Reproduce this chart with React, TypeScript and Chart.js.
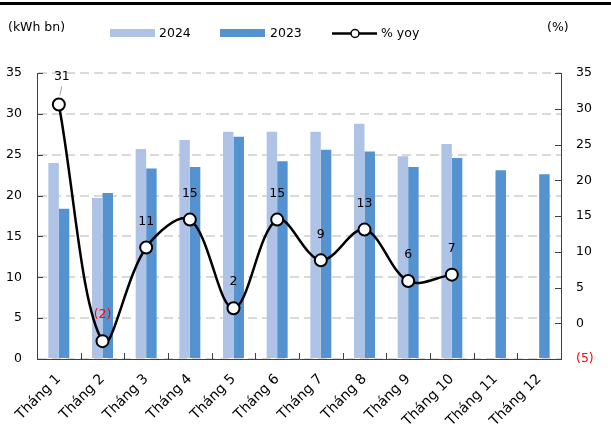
import React, { useEffect, useRef } from "react";
import { Chart, registerables } from "chart.js";

Chart.register(...registerables);

const categories = [
  "Tháng 1", "Tháng 2", "Tháng 3", "Tháng 4", "Tháng 5", "Tháng 6",
  "Tháng 7", "Tháng 8", "Tháng 9", "Tháng 10", "Tháng 11", "Tháng 12",
];
const values2024 = [24.0, 19.7, 25.7, 26.8, 27.8, 27.8, 27.8, 28.8, 24.8, 26.3, null, null];
const values2023 = [18.4, 20.3, 23.3, 23.5, 27.2, 24.2, 25.6, 25.4, 23.5, 24.6, 23.1, 22.6];
const yoyValues = [30.6, -2.5, 10.6, 14.5, 2.1, 14.5, 8.8, 13.1, 5.9, 6.8, null, null];
const yoyLabels = ["31", "(2)", "11", "15", "2", "15", "9", "13", "6", "7"];

const FONT_FAMILY = '"DejaVu Sans", Verdana, sans-serif';
const FONT_SIZE = 12.5;
const LIGHT = "#AFC3E6";
const DARK = "#5592D0";
const AXIS = "#404040";

const fmtPct = (v: number) => (v < 0 ? `(${Math.abs(v)})` : `${v}`);

const decorPlugin = {
  id: "decor",
  afterDatasetsDraw(chart: any) {
    const ctx = chart.ctx as CanvasRenderingContext2D;
    const meta = chart.getDatasetMeta(2);
    ctx.save();
    ctx.font = `${FONT_SIZE}px ${FONT_FAMILY}`;
    ctx.textAlign = "center";
    ctx.textBaseline = "middle";
    yoyLabels.forEach((lab, i) => {
      const el = meta.data[i];
      if (!el || yoyValues[i] == null) return;
      let lx = el.x;
      let ly = el.y - 26;
      if (i === 0) {
        lx = el.x + 3;
        ly = el.y - 28;
        ctx.strokeStyle = "#A6A6A6";
        ctx.lineWidth = 1;
        ctx.beginPath();
        ctx.moveTo(el.x + 3, el.y - 18);
        ctx.lineTo(el.x + 1, el.y - 9);
        ctx.stroke();
      }
      ctx.fillStyle = (yoyValues[i] as number) < 0 ? "#FF0000" : "#000000";
      ctx.fillText(lab, lx, ly);
    });
    ctx.restore();
  },
  afterDraw(chart: any) {
    const ctx = chart.ctx as CanvasRenderingContext2D;
    const { left, right, bottom } = chart.chartArea;
    ctx.save();
    // top rule
    ctx.fillStyle = "#000";
    ctx.fillRect(0, 2, chart.width, 3);

    // inside tick marks
    ctx.strokeStyle = AXIS;
    ctx.lineWidth = 1;
    const ys = chart.scales.y;
    ys.ticks.forEach((t: any) => {
      const py = Math.round(ys.getPixelForValue(t.value)) + 0.5;
      ctx.beginPath();
      ctx.moveTo(left, py);
      ctx.lineTo(left + 6, py);
      ctx.stroke();
    });
    const y2 = chart.scales.y2;
    y2.ticks.forEach((t: any) => {
      const py = Math.round(y2.getPixelForValue(t.value)) + 0.5;
      ctx.beginPath();
      ctx.moveTo(right - 6, py);
      ctx.lineTo(right, py);
      ctx.stroke();
    });
    const xs = chart.scales.x;
    for (let i = 1; i < categories.length; i++) {
      const px = Math.round((xs.getPixelForValue(i - 1) + xs.getPixelForValue(i)) / 2) + 0.5;
      ctx.beginPath();
      ctx.moveTo(px, bottom - 6);
      ctx.lineTo(px, bottom);
      ctx.stroke();
    }

    // legend & axis titles
    ctx.font = `${FONT_SIZE}px ${FONT_FAMILY}`;
    ctx.textBaseline = "middle";
    ctx.textAlign = "left";
    ctx.fillStyle = "#000";
    ctx.fillText("(kWh bn)", 8, 28);
    ctx.fillText("(%)", 547, 28);

    ctx.fillStyle = LIGHT;
    ctx.fillRect(110, 29, 45, 8);
    ctx.fillStyle = "#000";
    ctx.fillText("2024", 159, 34);

    ctx.fillStyle = DARK;
    ctx.fillRect(220, 29, 45, 8);
    ctx.fillStyle = "#000";
    ctx.fillText("2023", 270, 34);

    ctx.strokeStyle = "#000";
    ctx.lineWidth = 2.5;
    ctx.beginPath();
    ctx.moveTo(332, 33.5);
    ctx.lineTo(377, 33.5);
    ctx.stroke();
    ctx.fillStyle = "#fff";
    ctx.lineWidth = 1.5;
    ctx.beginPath();
    ctx.arc(355, 33.5, 4, 0, Math.PI * 2);
    ctx.fill();
    ctx.stroke();
    ctx.fillStyle = "#000";
    ctx.fillText("% yoy", 381, 34);
    ctx.restore();
  },
};

export default function App() {
  const ref = useRef<HTMLCanvasElement | null>(null);

  useEffect(() => {
    if (!ref.current) return;
    const font = { family: FONT_FAMILY, size: FONT_SIZE };
    const chart = new Chart(ref.current, {
      type: "bar",
      data: {
        labels: categories,
        datasets: [
          {
            type: "bar",
            label: "2024",
            data: values2024 as any,
            backgroundColor: LIGHT,
            yAxisID: "y",
            categoryPercentage: 0.48,
            barPercentage: 1,
            order: 2,
          },
          {
            type: "bar",
            label: "2023",
            data: values2023 as any,
            backgroundColor: DARK,
            yAxisID: "y",
            categoryPercentage: 0.48,
            barPercentage: 1,
            order: 2,
          },
          {
            type: "line",
            label: "% yoy",
            data: yoyValues as any,
            yAxisID: "y2",
            borderColor: "#000",
            borderWidth: 2.5,
            tension: 0.35,
            pointRadius: 6,
            pointBackgroundColor: "#fff",
            pointBorderColor: "#000",
            pointBorderWidth: 2,
            spanGaps: false,
            order: 0,
          } as any,
        ],
      },
      options: {
        responsive: false,
        animation: false,
        layout: { padding: { top: 73, left: 0, right: 0, bottom: 0 } },
        plugins: {
          legend: { display: false },
          tooltip: { enabled: false },
        },
        scales: {
          x: {
            grid: { display: false, drawTicks: false },
            border: { display: true, color: AXIS, width: 1 },
            ticks: {
              font: { family: FONT_FAMILY, size: 14 },
              color: "#000",
              minRotation: 45,
              maxRotation: 45,
              padding: 12,
              autoSkip: false,
            },
            afterFit: (s: any) => {
              s.height = 67;
            },
          },
          y: {
            position: "left",
            min: 0,
            max: 35,
            ticks: { stepSize: 5, font, color: "#000", padding: 15 },
            grid: {
              color: "#D9D9D9",
              lineWidth: 2,
              drawTicks: false,
            },
            border: { display: true, color: AXIS, width: 1, dash: [9, 5] },
            afterFit: (s: any) => {
              s.width = 37;
            },
          },
          y2: {
            position: "right",
            min: -5,
            max: 35,
            ticks: {
              stepSize: 5,
              font,
              padding: 15,
              color: (c: any) => (c.tick && c.tick.value < 0 ? "#FF0000" : "#000"),
              callback: (v: any) => fmtPct(Number(v)),
            },
            grid: { drawOnChartArea: false, drawTicks: false },
            border: { display: true, color: AXIS, width: 1 },
            afterFit: (s: any) => {
              s.width = 50;
            },
          },
        },
      },
      plugins: [decorPlugin],
    });
    return () => chart.destroy();
  }, []);

  return (
    <div style={{ position: "absolute", left: 0, top: 0, width: 611, height: 426, background: "#fff" }}>
      <canvas ref={ref} width={611} height={426} />
    </div>
  );
}
